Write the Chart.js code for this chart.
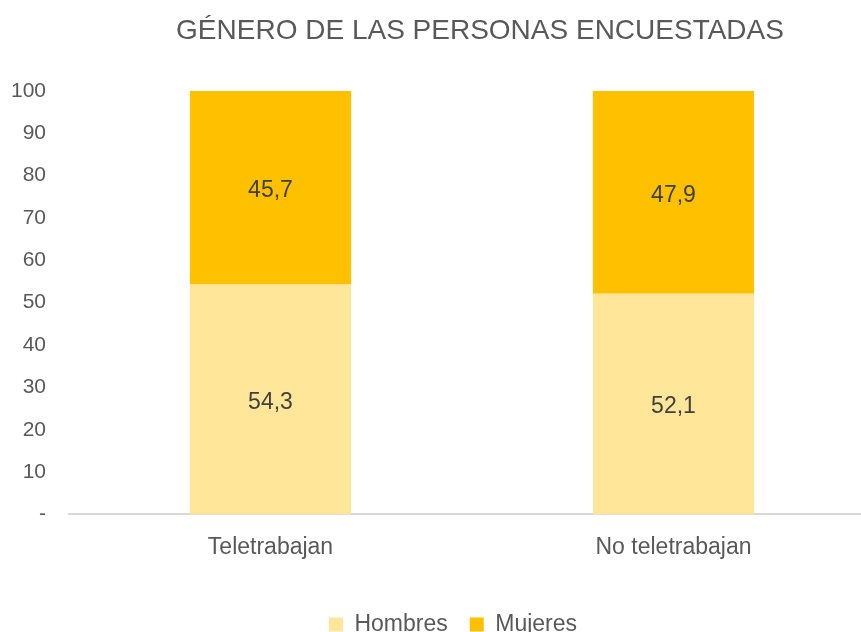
<!DOCTYPE html>
<html>
<head>
<meta charset="utf-8">
<script src="https://cdn.jsdelivr.net/npm/chart.js@4.4.1/dist/chart.umd.min.js"></script>
<style>
html,body{margin:0;padding:0;background:#fff;overflow:hidden}
#wrap{position:relative;width:861px;height:632px;overflow:hidden}
#c{position:absolute;left:0;top:0}
</style>
</head>
<body>
<div id="wrap"><canvas id="c" width="906" height="646"></canvas></div>
<script>
const TITLE='GÉNERO DE LAS PERSONAS ENCUESTADAS';
const categories=['Teletrabajan','No teletrabajan'];
const hombres=[54.3,52.1];
const mujeres=[45.7,47.9];
const yTicks=[0,10,20,30,40,50,60,70,80,90,100];

const FONT="'Liberation Sans', Arial, sans-serif";
const fmt=v=>v.toFixed(1).replace('.',',');

const titlePlugin={id:'ttl',afterDraw(chart){
  const {ctx}=chart;
  ctx.save();
  ctx.font='28px '+FONT; ctx.fillStyle='#595959';
  ctx.textAlign='center'; ctx.textBaseline='alphabetic';
  ctx.fillText(TITLE,480,39);
  ctx.restore();
}};

const labelPlugin={id:'lbl',afterDatasetsDraw(chart){
  const {ctx}=chart;
  ctx.save();
  ctx.font='23px '+FONT; ctx.fillStyle='#404040';
  ctx.textAlign='center'; ctx.textBaseline='middle';
  chart.data.datasets.forEach((ds,di)=>{
    chart.getDatasetMeta(di).data.forEach((el,i)=>{
      ctx.fillText(fmt(ds.data[i]),el.x,(el.y+el.base)/2+3);
    });
  });
  ctx.restore();
}};

new Chart(document.getElementById('c'),{
  type:'bar',
  data:{labels:categories,datasets:[
    {label:'Hombres',data:hombres,backgroundColor:'#FFE699',categoryPercentage:1,barPercentage:0.4},
    {label:'Mujeres',data:mujeres,backgroundColor:'#FFC000',categoryPercentage:1,barPercentage:0.4}
  ]},
  options:{
    responsive:false,animation:false,
    layout:{padding:{top:91,right:0,left:0,bottom:0}},
    plugins:{
      legend:{position:'bottom',labels:{font:{family:FONT,size:23},color:'#595959',boxWidth:14,boxHeight:14,padding:22}},
      tooltip:{enabled:false}
    },
    scales:{
      x:{stacked:true,grid:{display:false},border:{color:'#d9d9d9',width:2},
        afterFit(s){s.height+=19;},
        ticks:{font:{family:FONT,size:23},color:'#595959',padding:11}},
      y:{stacked:true,min:0,max:100,grid:{display:false,drawTicks:false},border:{display:false},
        afterBuildTicks(s){s.ticks=yTicks.map(v=>({value:v}));},
        afterFit(s){s.width=69;},
        ticks:{font:{family:FONT,size:21},color:'#595959',padding:23,callback:v=>v===0?'-':v}},
      // empty right axis, only reserves room so the plot runs past the window edge
      yR:{position:'right',grid:{display:false,drawTicks:false},border:{display:false},
        ticks:{display:false},afterFit(s){s.width=31;}}
    }
  },
  plugins:[titlePlugin,labelPlugin]
});
</script>
</body>
</html>
